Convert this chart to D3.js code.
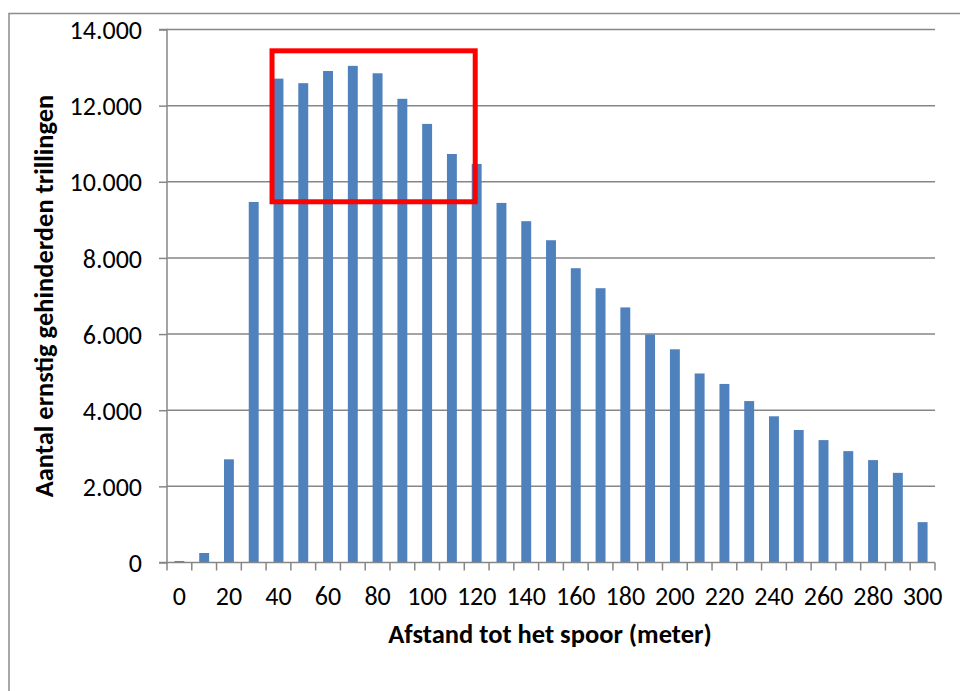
<!DOCTYPE html>
<html><head><meta charset="utf-8">
<script src="https://cdn.jsdelivr.net/npm/d3@7"></script>
<style>body{margin:0;background:#fff}svg{display:block}</style>
</head><body>
<svg id="c" width="960" height="691"></svg>
<script>
const categories = [0,10,20,30,40,50,60,70,80,90,100,110,120,130,140,150,160,170,180,190,200,210,220,230,240,250,260,270,280,290,300];
const values = [40,250,2710,9470,12710,12590,12910,13045,12850,12180,11520,10730,10470,9445,8965,8465,7730,7205,6700,5990,5600,4965,4690,4240,3840,3480,3215,2925,2690,2355,1060];
const yTicks = [0,2000,4000,6000,8000,10000,12000,14000];
const xLabels = [0,20,40,60,80,100,120,140,160,180,200,220,240,260,280,300];
const highlightX = [40,120];
const highlightY = [9475,13440];
const yTitle = "Aantal ernstig gehinderden trillingen";
const xTitle = "Afstand tot het spoor (meter)";

const svg = d3.select("#c");
const font = "Carlito, Lato, 'Open Sans', sans-serif";
const L = 167, R = 935, T = 29.5, B = 562.5;
const x = d3.scaleBand().domain(categories).range([L, R]).paddingInner(0.6).paddingOuter(0.3);
const y = d3.scaleLinear().domain([0, 14000]).range([B, T]);
const grey = "#868686";

// outer border
svg.append("rect").attr("x",9).attr("y",13.5).attr("width",1000).attr("height",1000)
  .attr("fill","none").attr("stroke","#8c8c8c").attr("stroke-width",1.5);

// gridlines
svg.append("g").selectAll("line").data(yTicks.filter(d=>d>0)).join("line")
  .attr("x1",L).attr("x2",R).attr("y1",d=>y(d)).attr("y2",d=>y(d))
  .attr("stroke",grey).attr("stroke-width",1.5);

// bars
svg.append("g").selectAll("rect").data(categories).join("rect")
  .attr("x",(d)=>x(d)).attr("width",x.bandwidth())
  .attr("y",(d,i)=>y(values[i])).attr("height",(d,i)=>B-y(values[i]))
  .attr("fill","#4f81bd");

// y axis
const ya = svg.append("g").attr("transform",`translate(${L},0)`)
  .call(d3.axisLeft(y).tickValues(yTicks).tickSize(8).tickPadding(17)
    .tickFormat(d=>d===0?"0":d3.format(",")(d).replace(/,/g,".")));
ya.selectAll("path,line").attr("stroke",grey).attr("stroke-width",1.5);
ya.select(".domain").attr("d",`M-8,${T}H0V${B}H-8`);
ya.selectAll("text").attr("font-family",font).attr("font-size",26).attr("fill","#000").attr("dy","0.35em");

// x axis
const xa = svg.append("g").attr("transform",`translate(0,${B})`);
xa.append("line").attr("x1",L).attr("x2",R).attr("stroke",grey).attr("stroke-width",1.5);
const boundaries = d3.range(categories.length+1).map(i=>L + (R-L)*i/categories.length);
xa.selectAll("line.t").data(boundaries).join("line").attr("class","t")
  .attr("x1",d=>d).attr("x2",d=>d).attr("y1",0).attr("y2",8)
  .attr("stroke",grey).attr("stroke-width",1.5);
xa.selectAll("text").data(xLabels).join("text")
  .attr("x",d=>x(d)+x.bandwidth()/2).attr("y",42.5)
  .attr("text-anchor","middle").attr("font-family",font).attr("font-size",26).attr("fill","#000")
  .text(d=>d);

// titles
svg.append("text").attr("transform",`translate(53,296) rotate(-90)`)
  .attr("text-anchor","middle").attr("font-family",font).attr("font-size",26.5)
  .attr("font-weight","bold").text(yTitle);
svg.append("text").attr("x",550).attr("y",643)
  .attr("text-anchor","middle").attr("font-family",font).attr("font-size",26.5)
  .attr("font-weight","bold").text(xTitle);

// highlight rectangle
const hx0 = x(highlightX[0]) - 1.5, hx1 = x(highlightX[1]) + 3.5;
svg.append("rect").attr("x",hx0).attr("y",y(highlightY[1]))
  .attr("width",hx1-hx0).attr("height",y(highlightY[0])-y(highlightY[1]))
  .attr("fill","none").attr("stroke","#ff0000").attr("stroke-width",5);
</script>
</body></html>
